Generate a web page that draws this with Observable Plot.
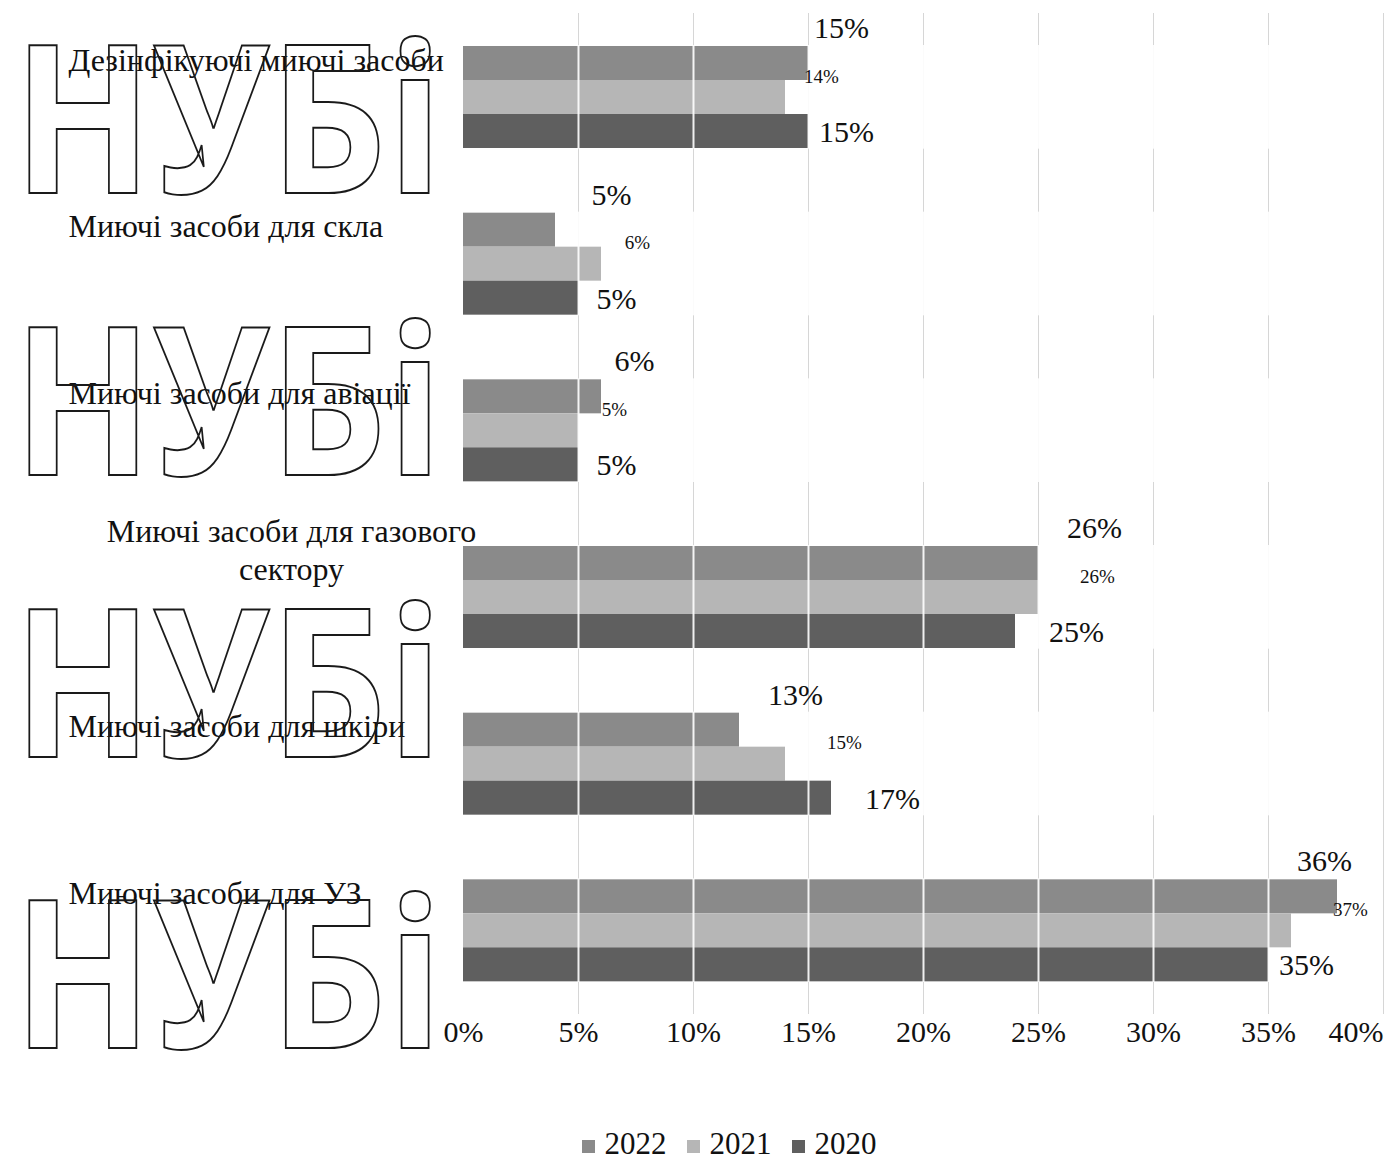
<!DOCTYPE html>
<html>
<head>
<meta charset="utf-8">
<script src="https://cdn.jsdelivr.net/npm/d3@7"></script>
<script src="https://cdn.jsdelivr.net/npm/@observablehq/plot@0.6"></script>
<style>
  body { margin: 0; background: #fff; font-family: "Liberation Serif", "Times New Roman", serif; }
  #wrap { position: relative; width: 1392px; height: 1162px; overflow: hidden; }
  #legend { position: absolute; left: 0; top: 1127px; width: 1392px; display: flex; justify-content: center; padding-left: 66px; box-sizing: border-box; font-size: 31px; color: #111; line-height: 34px; }
  #legend .item { display: flex; align-items: center; margin: 0 10px; }
  #legend .sw { width: 13px; height: 13px; margin-right: 10px; margin-top: 4px; }
  #wm { position: absolute; left: 0; top: 0; pointer-events: none; }
</style>
</head>
<body>
<div id="wrap">
  <div id="chart"></div>
  <div id="legend"></div>
  <svg id="wm" width="1392" height="1162"></svg>
</div>
<script>
// ---- data ----
const categories = [
  "Дезінфікуючі миючі засоби",
  "Миючі засоби для скла",
  "Миючі засоби для авіації",
  "Миючі засоби для газового сектору",
  "Миючі засоби для шкіри",
  "Миючі засоби для УЗ"
];
const categoryLabels = [
  "Дезінфікуючі миючі засоби",
  "Миючі засоби для скла",
  "Миючі засоби для авіації",
  "Миючі засоби для газового\nсектору",
  "Миючі засоби для шкіри",
  "Миючі засоби для УЗ"
];
const years = ["2022", "2021", "2020"];
// bar lengths (%), as drawn
const bars2022 = [15, 4, 6, 25, 12, 38];
const bars2021 = [14, 6, 5, 25, 14, 36];
const bars2020 = [15, 5, 5, 24, 16, 35];
// data labels (%), as printed
const labels2022 = [15, 5, 6, 26, 13, 36];
const labels2021 = [14, 6, 5, 26, 15, 37];
const labels2020 = [15, 5, 5, 25, 17, 35];
const xTicks = [0, 5, 10, 15, 20, 25, 30, 35, 40];
const colors = ["#8a8a8a", "#b6b6b6", "#5f5f5f"];
const watermarkText = "НУБі";

// ---- table ----
const seriesBars = {"2022": bars2022, "2021": bars2021, "2020": bars2020};
const seriesLabels = {"2022": labels2022, "2021": labels2021, "2020": labels2020};
const rows = years.flatMap(y => categories.map((c, i) => ({
  category: c, year: y, value: seriesBars[y][i], label: seriesLabels[y][i]
})));
const catRows = categories.map((c, i) => ({category: c, text: categoryLabels[i], multi: categoryLabels[i].includes("\n")}));

const serif = '"Liberation Serif", "Times New Roman", serif';
const labelStyle = {
  "2022": {dx: 33, dy: -35, fontSize: 30},
  "2021": {dx: 36, dy: -21, fontSize: 19},
  "2020": {dx: 38, dy: 1, fontSize: 30}
};

const plot = Plot.plot({
  width: 1392,
  height: 1090,
  marginLeft: 463,
  marginRight: 9,
  marginTop: 45,
  marginBottom: 108,
  style: {fontFamily: serif, background: "transparent", color: "#111"},
  x: {domain: [0, 40], axis: null},
  y: {domain: years, padding: 0, axis: null},
  fy: {domain: categories, paddingInner: 0.378, paddingOuter: 0, round: false, axis: null},
  color: {domain: years, range: colors},
  marks: [
    Plot.gridX(xTicks.slice(1), {stroke: "#d6d6d6", strokeOpacity: 1, insetTop: -32, insetBottom: -32}),
    Plot.barX(rows, {fy: "category", y: "year", x: "value", fill: "year"}),
    Plot.gridX(xTicks.slice(1, -1), {stroke: "#ffffff", strokeOpacity: 0.9, strokeWidth: 2}),
    ...years.map(yr => Plot.text(rows.filter(d => d.year === yr), {
      fy: "category", y: "year", x: "label",
      text: d => d.label + "%",
      textAnchor: "middle",
      dx: labelStyle[yr].dx, dy: labelStyle[yr].dy,
      fontSize: labelStyle[yr].fontSize,
      fill: "#111"
    })),
    Plot.text(catRows.filter(d => !d.multi), {
      fy: "category", text: "text", frameAnchor: "top-left",
      dx: -395, dy: 15, textAnchor: "start", lineAnchor: "middle",
      fontSize: 32, fill: "#111"
    }),
    Plot.text(catRows.filter(d => d.multi), {
      fy: "category", text: "text", frameAnchor: "top-left",
      dx: -172, dy: 3, textAnchor: "middle", lineAnchor: "middle",
      lineHeight: 1.2, fontSize: 32, fill: "#111"
    }),
    Plot.axisX(xTicks.slice(0, -1), {tickSize: 0, tickPadding: 38, fontSize: 30, tickFormat: d => d + "%", fill: "#111"}),
    Plot.axisX(xTicks.slice(-1), {tickSize: 0, tickPadding: 38, fontSize: 30, tickFormat: d => d + "%", textAnchor: "end", fill: "#111"})
  ]
});
document.getElementById("chart").appendChild(plot);

// ---- legend ----
const legend = d3.select("#legend");
years.forEach((y, i) => {
  const it = legend.append("div").attr("class", "item");
  it.append("div").attr("class", "sw").style("background", colors[i]);
  it.append("span").text(y);
});

// ---- watermark outline letters ----
const wm = d3.select("#wm");
[193, 475, 757, 1048].forEach(base => {
  wm.append("text")
    .attr("x", 13).attr("y", base)
    .attr("textLength", 430).attr("lengthAdjust", "spacingAndGlyphs")
    .style("font-family", '"Noto Sans", "DejaVu Sans", sans-serif')
    .style("font-weight", 700)
    .style("font-size", "207px")
    .style("fill", "none")
    .style("stroke", "#1a1a1a")
    .style("stroke-width", 2)
    .text(watermarkText);
});
</script>
</body>
</html>
